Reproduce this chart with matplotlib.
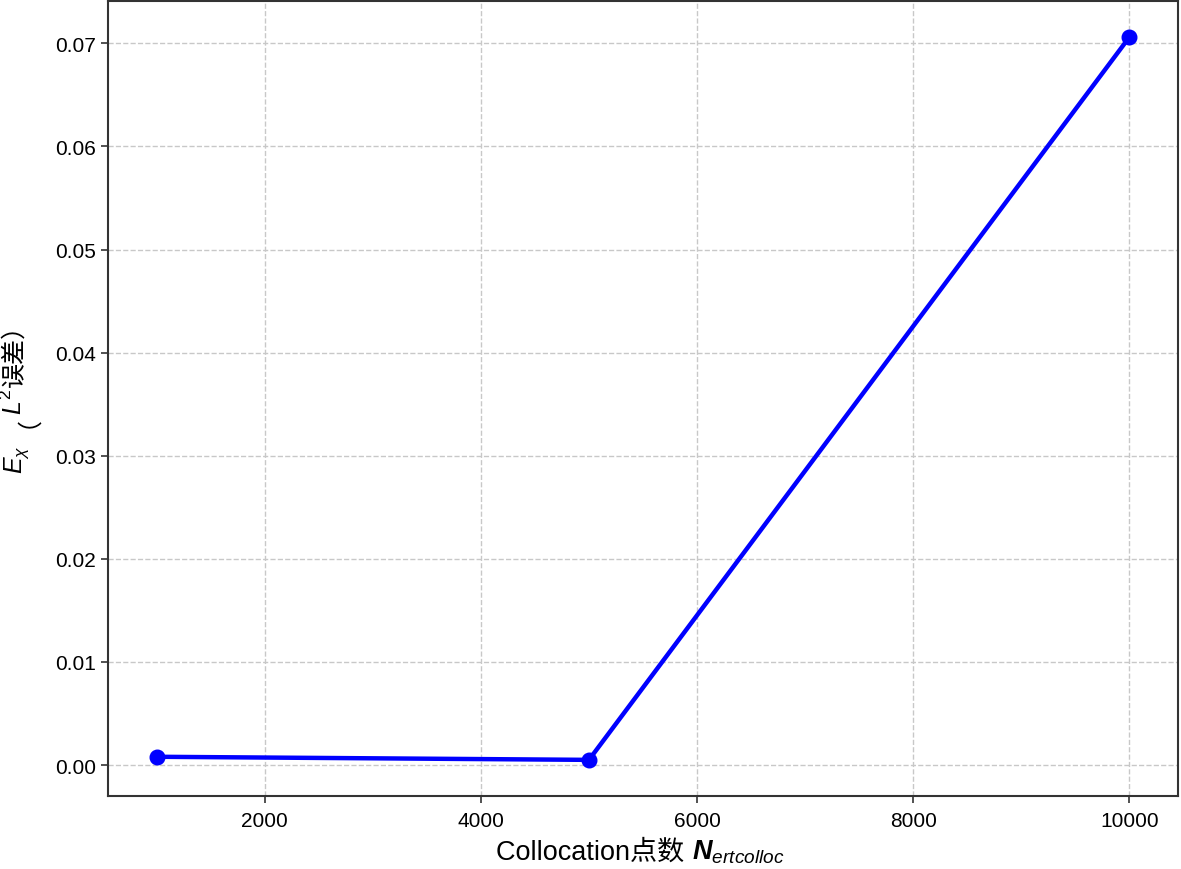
import matplotlib
matplotlib.use('Agg')
import matplotlib.pyplot as plt

# collocation points vs L2 error
n_points = [1000, 5000, 10000]
l2_error = [0.0008, 0.0005, 0.0706]

xlabel_parts = ['Collocation点数 ', '$\\mathbfit{N}_{ertcolloc}$']
ylabel_parts = ['$E_{\\chi}$', '（', '$L^2$', '误差）']

plt.rcParams['font.family'] = ['Liberation Sans', 'Noto Sans CJK SC', 'DejaVu Sans']
plt.rcParams['mathtext.fontset'] = 'custom'
plt.rcParams['mathtext.rm'] = 'Liberation Sans'
plt.rcParams['mathtext.it'] = 'Liberation Sans:italic'
plt.rcParams['mathtext.bf'] = 'Liberation Sans:bold'
plt.rcParams['mathtext.bfit'] = 'Liberation Sans:bold:italic'

W, H = 1181, 870
fig = plt.figure(figsize=(W / 100, H / 100), dpi=100)
ax = fig.add_axes([108 / W, 1 - 797 / H, 1070 / W, 795 / H])

ax.plot(n_points, l2_error, color='#0000ff', linewidth=3.2, marker='o', markersize=10.5)

ax.grid(True, linestyle='--', color='#c8c8c8', linewidth=1)
ax.set_axisbelow(True)
for sp in ax.spines.values():
    sp.set_color('#333333')
    sp.set_linewidth(1.5)
ax.tick_params(labelsize=15, color='#333333', width=1.2, length=5)
ax.tick_params(axis='x', pad=6)

# labels built from pieces so mathtext and CJK fonts can mix
renderer = fig.canvas.get_renderer()

def chain(parts, gaps, x0, y0, rotation, fs):
    texts = []
    x, y = x0, y0
    for p, g in zip(parts, gaps):
        if rotation == 0:
            x += g
        else:
            y -= g
        t = fig.text(x / W, 1 - y / H, p, fontsize=fs, rotation=rotation,
                     rotation_mode='anchor', ha='left', va='baseline')
        bb = t.get_window_extent(renderer)
        if rotation == 0:
            x += bb.width
        else:
            y -= bb.height
        texts.append(t)
    return texts, (x - x0) if rotation == 0 else (y0 - y)

xs, total = chain(xlabel_parts, [0, 0], 0, 860, 0, 19.5)
shift = 640 - total / 2
for t in xs:
    px, py = t.get_position()
    t.set_position((px + shift / W, py))

ys, total = chain(ylabel_parts, [0, 18, -12, 2], 22, 0, 90, 18)
shift = 393 + total / 2
for t in ys:
    px, py = t.get_position()
    t.set_position((px, py - shift / H))

fig.savefig('out.png', dpi=100)
